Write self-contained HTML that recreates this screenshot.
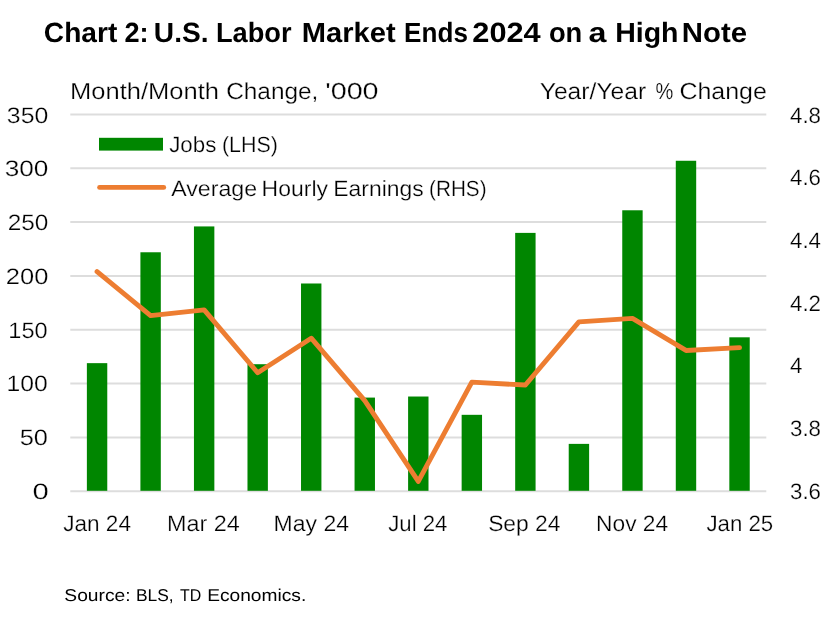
<!DOCTYPE html>
<html><head><meta charset="utf-8"><style>
html,body{margin:0;padding:0;background:#fff;overflow:hidden;}
svg{display:block;font-family:"Liberation Sans", sans-serif;will-change:transform;text-rendering:geometricPrecision;}
text{fill:#000;}
.th{stroke:#fff;stroke-width:0.25px;}
</style></head><body>
<svg width="827" height="617" viewBox="0 0 827 617">
<rect width="827" height="617" fill="#fff"/>
<line x1="70.3" y1="491.25" x2="766.3" y2="491.25" stroke="#dddddd" stroke-width="2.0"/>
<line x1="70.3" y1="437.43" x2="766.3" y2="437.43" stroke="#dddddd" stroke-width="2.0"/>
<line x1="70.3" y1="383.60" x2="766.3" y2="383.60" stroke="#dddddd" stroke-width="2.0"/>
<line x1="70.3" y1="329.77" x2="766.3" y2="329.77" stroke="#dddddd" stroke-width="2.0"/>
<line x1="70.3" y1="275.95" x2="766.3" y2="275.95" stroke="#dddddd" stroke-width="2.0"/>
<line x1="70.3" y1="222.12" x2="766.3" y2="222.12" stroke="#dddddd" stroke-width="2.0"/>
<line x1="70.3" y1="168.30" x2="766.3" y2="168.30" stroke="#dddddd" stroke-width="2.0"/>
<line x1="70.3" y1="114.48" x2="766.3" y2="114.48" stroke="#dddddd" stroke-width="2.0"/>
<rect x="86.87" y="363.15" width="20.4" height="127.65" fill="#008600"/>
<rect x="140.41" y="252.27" width="20.4" height="238.53" fill="#008600"/>
<rect x="193.95" y="226.43" width="20.4" height="264.37" fill="#008600"/>
<rect x="247.48" y="364.22" width="20.4" height="126.58" fill="#008600"/>
<rect x="301.02" y="283.49" width="20.4" height="207.31" fill="#008600"/>
<rect x="354.56" y="397.59" width="20.4" height="93.21" fill="#008600"/>
<rect x="408.10" y="396.52" width="20.4" height="94.28" fill="#008600"/>
<rect x="461.64" y="414.82" width="20.4" height="75.98" fill="#008600"/>
<rect x="515.18" y="232.89" width="20.4" height="257.91" fill="#008600"/>
<rect x="568.72" y="443.88" width="20.4" height="46.92" fill="#008600"/>
<rect x="622.25" y="210.28" width="20.4" height="280.52" fill="#008600"/>
<rect x="675.79" y="160.76" width="20.4" height="330.04" fill="#008600"/>
<rect x="729.33" y="337.31" width="20.4" height="153.49" fill="#008600"/>
<polyline points="97.07,271.58 150.61,315.57 204.15,309.91 257.68,372.74 311.22,338.19 364.76,400.71 418.30,481.45 471.84,382.17 525.38,385.00 578.92,321.85 632.45,318.39 685.99,350.44 739.53,347.61" fill="none" stroke="#ED7D31" stroke-width="4.9" stroke-linejoin="round" stroke-linecap="round"/>
<text x="63.19" y="530.8" font-size="22.3" textLength="67.78" lengthAdjust="spacingAndGlyphs" class="th">Jan 24</text>
<text x="167.0" y="530.8" font-size="22.3" textLength="72.72" lengthAdjust="spacingAndGlyphs" class="th">Mar 24</text>
<text x="273.64" y="530.8" font-size="22.3" textLength="75.32" lengthAdjust="spacingAndGlyphs" class="th">May 24</text>
<text x="388.31" y="530.8" font-size="22.3" textLength="59.09" lengthAdjust="spacingAndGlyphs" class="th">Jul 24</text>
<text x="488.15" y="530.8" font-size="22.3" textLength="72.33" lengthAdjust="spacingAndGlyphs" class="th">Sep 24</text>
<text x="596.06" y="530.8" font-size="22.3" textLength="72.11" lengthAdjust="spacingAndGlyphs" class="th">Nov 24</text>
<text x="706.4" y="530.8" font-size="22.3" textLength="66.85" lengthAdjust="spacingAndGlyphs" class="th">Jan 25</text>
<text x="6.89" y="122.75" font-size="22.3" textLength="41.45" lengthAdjust="spacingAndGlyphs" class="th">350</text>
<text x="4.73" y="176.45" font-size="22.3" textLength="43.69" lengthAdjust="spacingAndGlyphs" class="th">300</text>
<text x="7.66" y="230.15" font-size="22.3" textLength="40.66" lengthAdjust="spacingAndGlyphs" class="th">250</text>
<text x="5.86" y="283.85" font-size="22.3" textLength="42.52" lengthAdjust="spacingAndGlyphs" class="th">200</text>
<text x="8.39" y="337.55" font-size="22.3" textLength="39.28" lengthAdjust="spacingAndGlyphs" class="th">150</text>
<text x="6.54" y="391.25" font-size="22.3" textLength="41.2" lengthAdjust="spacingAndGlyphs" class="th">100</text>
<text x="19.66" y="444.95" font-size="22.3" textLength="28.26" lengthAdjust="spacingAndGlyphs" class="th">50</text>
<text x="32.59" y="498.65" font-size="22.3" textLength="16.25" lengthAdjust="spacingAndGlyphs" class="th">0</text>
<text x="43.89" y="41.9" font-size="27.8" font-weight="bold" textLength="73.41" lengthAdjust="spacingAndGlyphs">Chart</text>
<text x="124.52" y="41.9" font-size="27.8" font-weight="bold" textLength="24.13" lengthAdjust="spacingAndGlyphs">2:</text>
<text x="153.88" y="41.9" font-size="27.8" font-weight="bold" textLength="54.71" lengthAdjust="spacingAndGlyphs">U.S.</text>
<text x="215.94" y="41.9" font-size="27.8" font-weight="bold" textLength="75.67" lengthAdjust="spacingAndGlyphs">Labor</text>
<text x="301.81" y="41.9" font-size="27.8" font-weight="bold" textLength="93.83" lengthAdjust="spacingAndGlyphs">Market</text>
<text x="404.12" y="41.9" font-size="27.8" font-weight="bold" textLength="63.79" lengthAdjust="spacingAndGlyphs">Ends</text>
<text x="472.29" y="41.9" font-size="27.8" font-weight="bold" textLength="68.43" lengthAdjust="spacingAndGlyphs">2024</text>
<text x="548.92" y="41.9" font-size="27.8" font-weight="bold" textLength="33.42" lengthAdjust="spacingAndGlyphs">on</text>
<text x="588.44" y="41.9" font-size="27.8" font-weight="bold" textLength="17.94" lengthAdjust="spacingAndGlyphs">a</text>
<text x="615.15" y="41.9" font-size="27.8" font-weight="bold" textLength="63.36" lengthAdjust="spacingAndGlyphs">High</text>
<text x="681.89" y="41.9" font-size="27.8" font-weight="bold" textLength="65.24" lengthAdjust="spacingAndGlyphs">Note</text>
<text x="70.0" y="98.8" font-size="23.2" textLength="148.98" lengthAdjust="spacingAndGlyphs" class="th">Month/Month</text>
<text x="226.15" y="98.8" font-size="23.2" textLength="92.21" lengthAdjust="spacingAndGlyphs" class="th">Change,</text>
<text x="325.26" y="98.8" font-size="23.2" textLength="53.33" lengthAdjust="spacingAndGlyphs" class="th">'000</text>
<text x="539.74" y="98.8" font-size="23.2" textLength="106.43" lengthAdjust="spacingAndGlyphs" class="th">Year/Year</text>
<text x="655.44" y="98.8" font-size="23.2" textLength="17.8" lengthAdjust="spacingAndGlyphs" class="th">%</text>
<text x="679.42" y="98.8" font-size="23.2" textLength="87.4" lengthAdjust="spacingAndGlyphs" class="th">Change</text>
<text x="169.19" y="151.7" font-size="22" textLength="47.1" lengthAdjust="spacingAndGlyphs" class="th">Jobs</text>
<text x="221.93" y="151.7" font-size="22" textLength="55.89" lengthAdjust="spacingAndGlyphs" class="th">(LHS)</text>
<text x="171.2" y="196.0" font-size="22" textLength="85.83" lengthAdjust="spacingAndGlyphs" class="th">Average</text>
<text x="261.61" y="196.0" font-size="22" textLength="66.39" lengthAdjust="spacingAndGlyphs" class="th">Hourly</text>
<text x="333.32" y="196.0" font-size="22" textLength="90.36" lengthAdjust="spacingAndGlyphs" class="th">Earnings</text>
<text x="429.06" y="196.0" font-size="22" textLength="57.48" lengthAdjust="spacingAndGlyphs" class="th">(RHS)</text>
<text x="64.38" y="600.7" font-size="17.2" textLength="66.2" lengthAdjust="spacingAndGlyphs">Source:</text>
<text x="135.99" y="600.7" font-size="17.2" textLength="37.69" lengthAdjust="spacingAndGlyphs">BLS,</text>
<text x="180.0" y="600.7" font-size="17.2" textLength="21.25" lengthAdjust="spacingAndGlyphs">TD</text>
<text x="207.18" y="600.7" font-size="17.2" textLength="99.07" lengthAdjust="spacingAndGlyphs">Economics.</text>
<text x="790.0" y="498.75" font-size="22.3" class="th">3.6</text>
<text x="790.0" y="436.08" font-size="22.3" class="th">3.8</text>
<text x="790.0" y="373.41" font-size="22.3" class="th">4</text>
<text x="790.0" y="310.74" font-size="22.3" class="th">4.2</text>
<text x="790.0" y="248.07" font-size="22.3" class="th">4.4</text>
<text x="790.0" y="185.40" font-size="22.3" class="th">4.6</text>
<text x="790.0" y="122.73" font-size="22.3" class="th">4.8</text>
<rect x="99" y="137.8" width="64" height="12.8" fill="#008600"/>
<line x1="99.6" y1="187.4" x2="163.7" y2="187.4" stroke="#ED7D31" stroke-width="4.9" stroke-linecap="round"/>
</svg>
</body></html>
